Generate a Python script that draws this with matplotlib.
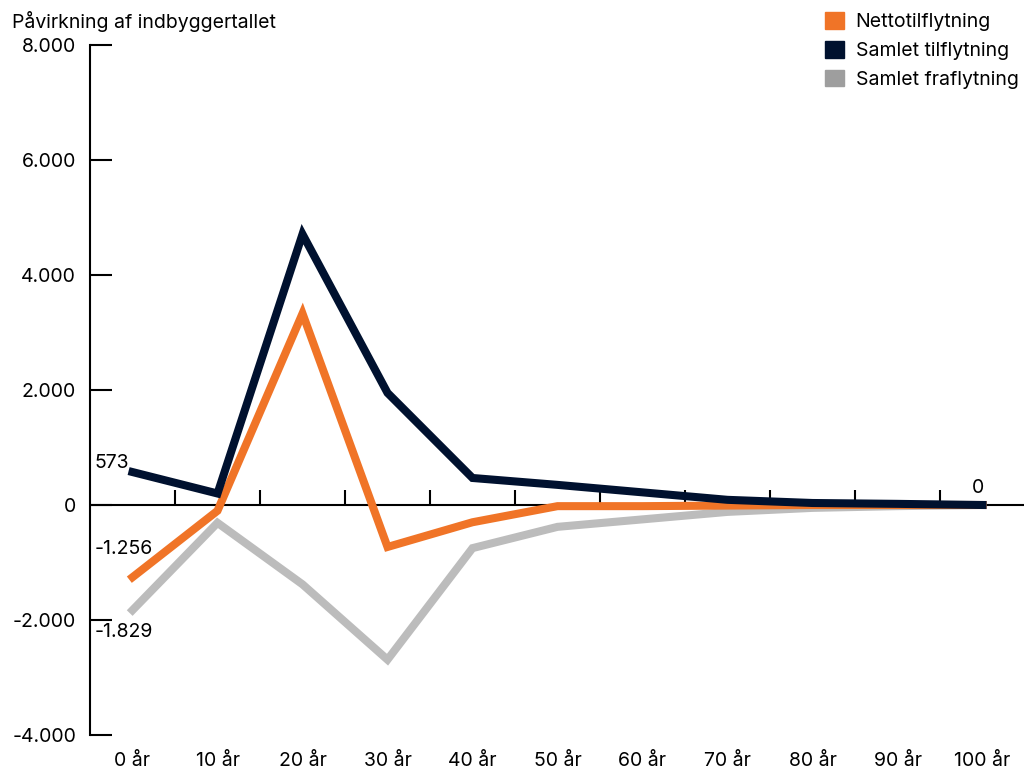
import matplotlib.pyplot as plt
from matplotlib.patches import Patch
from matplotlib.ticker import FuncFormatter

plt.rcParams['font.family'] = ['Inter', 'DejaVu Sans']

# x-kategorier (år efter)
years = ['0 år', '10 år', '20 år', '30 år', '40 år', '50 år',
         '60 år', '70 år', '80 år', '90 år', '100 år']

# aflæste værdier
netto = [-1256, -100, 3330, -730, -300, -20, -20, -10, 0, 0, 0]
tilflytning = [573, 200, 4710, 1950, 470, 350, 220, 90, 35, 20, 0]
fraflytning = [-1829, -310, -1380, -2690, -750, -380, -250, -120, -50, -20, 0]

orange = '#f07427'
navy = '#00112f'
grey = '#bcbcbc'
fs = 14

fig = plt.figure(figsize=(10.24, 7.71), dpi=100)
ax = fig.add_axes([90 / 1024, 1 - 735 / 771, 935 / 1024, 690 / 771])

x = list(range(len(years)))
ax.plot(x, fraflytning, color=grey, lw=5.8, solid_joinstyle='miter', zorder=2)
ax.plot(x, netto, color=orange, lw=5.8, solid_joinstyle='miter', zorder=3)
ax.plot(x, tilflytning, color=navy, lw=5.8, solid_joinstyle='miter', zorder=4)

ax.set_xlim(-0.5, len(years) - 0.5)
ax.set_ylim(-4000, 8000)

# akser
for s in ['top', 'right', 'bottom']:
    ax.spines[s].set_visible(False)
ax.spines['left'].set_linewidth(1.5)
ax.axhline(0, color='black', lw=1.5, zorder=1)

ax.set_yticks([-4000, -2000, 0, 2000, 4000, 6000, 8000])
ax.yaxis.set_major_formatter(FuncFormatter(lambda v, p: f'{int(v):,}'.replace(',', '.')))
ax.tick_params(axis='y', direction='in', length=16, width=1.5, pad=10, labelsize=fs)

ax.set_xticks(x)
ax.set_xticklabels(years)
ax.tick_params(axis='x', length=0, pad=12, labelsize=fs)

# små streger på 0-linjen mellem kategorierne
sec = ax.secondary_xaxis(1 / 3)
sec.set_xticks([i + 0.5 for i in range(len(years) - 1)])
sec.tick_params(axis='x', direction='in', length=11, width=1.5, labelbottom=False,
                labeltop=False)
sec.spines['bottom'].set_visible(False)
sec.spines['top'].set_visible(False)

# dataetiketter
ax.annotate('573', (0, tilflytning[0]), xytext=(-27, 0), textcoords='offset points',
            ha='left', va='bottom', fontsize=fs)
ax.annotate(f'{netto[0]:,}'.replace(',', '.'), (0, netto[0]), xytext=(-27, 14),
            textcoords='offset points', ha='left', va='bottom', fontsize=fs)
ax.annotate(f'{fraflytning[0]:,}'.replace(',', '.'), (0, fraflytning[0]), xytext=(-27, -9),
            textcoords='offset points', ha='left', va='top', fontsize=fs)
ax.annotate('0', (10, tilflytning[-1]), xytext=(-3, 6), textcoords='offset points',
            ha='center', va='bottom', fontsize=fs)

fig.text(12 / 1024, 1 - 21 / 771, 'Påvirkning af indbyggertallet', fontsize=fs,
         ha='left', va='center')

handles = [Patch(color=orange, label='Nettotilflytning'),
           Patch(color=navy, label='Samlet tilflytning'),
           Patch(color='#9e9e9e', label='Samlet fraflytning')]
fig.legend(handles=handles, loc='upper right', bbox_to_anchor=(1.006, 0.9995), frameon=False,
           fontsize=fs, handlelength=0.95, handleheight=0.95, handletextpad=0.6,
           labelspacing=0.5, borderaxespad=0.2)

fig.savefig('out.png', dpi=100)
